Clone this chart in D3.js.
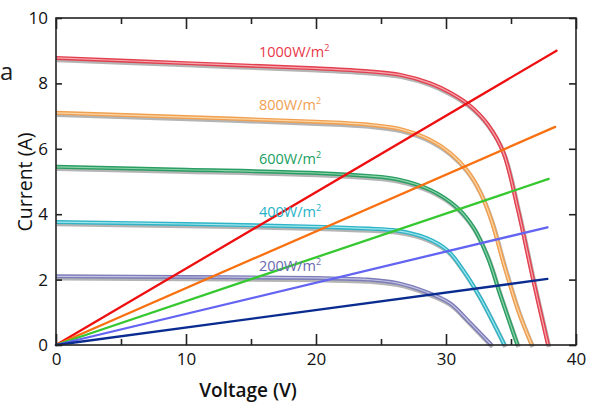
<!DOCTYPE html>
<html>
<head>
<meta charset="utf-8">
<script src="https://cdn.jsdelivr.net/npm/d3@7"></script>
<style>
  body { margin: 0; background: #fff; }
  svg { display: block; }
  text { font-family: "Open Sans", sans-serif; }
</style>
</head>
<body>
<svg id="chart" width="591" height="402"></svg>
<script>
// I-V curves for each irradiance, [voltage, current]
var curve1000 = [[0,8.78],[10,8.62],[20,8.46],[24,8.37],[26.5,8.26],[28.8,8.0],[30.3,7.72],[31.8,7.33],[33.2,6.75],[34.4,5.9],[35.5,4.2],[36.7,2.0],[37.85,0]];
var curve800  = [[0,7.1],[10,6.97],[20,6.83],[24,6.74],[26.5,6.6],[28.8,6.27],[30.3,5.88],[31.6,5.35],[32.6,4.7],[33.5,3.8],[34.5,2.4],[35.6,1.0],[36.6,0]];
var curve600  = [[0,5.45],[10,5.36],[20,5.26],[24,5.17],[26.2,5.07],[28.8,4.74],[30.8,4.22],[32.1,3.6],[33.2,2.7],[34.2,1.5],[35.5,0]];
var curve400  = [[0,3.76],[10,3.7],[20,3.62],[24,3.56],[26.2,3.5],[28.5,3.27],[30.1,2.9],[31.3,2.3],[32.6,1.47],[34.5,0]];
var curve200  = [[0,2.1],[10,2.08],[20,2.05],[24,2.0],[26.2,1.9],[28.5,1.62],[30.3,1.28],[31.8,0.7],[33.5,0]];
var curves = [curve1000, curve800, curve600, curve400, curve200];
var irradiance = ['1000', '800', '600', '400', '200'];

// load lines from origin, end points [voltage, current]
var loadEnds = [[38.5,9.0],[38.4,6.67],[37.9,5.08],[37.8,3.6],[37.8,2.02]];

var xTicks = [0, 10, 20, 30, 40];
var yTicks = [0, 2, 4, 6, 8, 10];
var xMinor = [5, 15, 25, 35];

var curveColors = ['#e2404e', '#f0a050', '#2a9e62', '#2eb4c6', '#7c7cb8'];
var curveInner  = ['#f7a8b0', '#fbd6a8', '#8fd4ae', '#a4e6ee', '#c4c4e4'];
var labelColors = ['#e8384a', '#f0a050', '#20a060', '#26b2c8', '#6a6ab0'];
var labelY = [8.8, 7.18, 5.55, 3.9, 2.25];
var lineColors = ['#ee1010', '#f87010', '#36c830', '#6464f2', '#0a2c90'];

var svg = d3.select('#chart');
var x = d3.scaleLinear().domain([0, 40]).range([56, 576]);
var y = d3.scaleLinear().domain([0, 10]).range([345, 18]);

var line = d3.line()
    .x(function(d) { return x(d[0]); })
    .y(function(d) { return y(d[1]); })
    .curve(d3.curveCatmullRom.alpha(0.5));

// I-V curves: shadow, colored tube, light core
var g = svg.append('g');
curves.forEach(function(c, i) {
  g.append('path').attr('d', line(c))
    .attr('transform', 'translate(1,2)')
    .attr('fill', 'none').attr('stroke', '#777').attr('stroke-opacity', 0.55)
    .attr('stroke-width', 4.5);
  g.append('path').attr('d', line(c))
    .attr('fill', 'none').attr('stroke', curveColors[i]).attr('stroke-width', 4);
  g.append('path').attr('d', line(c))
    .attr('fill', 'none').attr('stroke', curveInner[i]).attr('stroke-width', 1.2);
});

// load lines
svg.append('g').selectAll('line')
    .data(loadEnds)
  .enter().append('line')
    .attr('x1', x(0)).attr('y1', y(0))
    .attr('x2', function(d) { return x(d[0]); })
    .attr('y2', function(d) { return y(d[1]); })
    .attr('stroke', function(d, i) { return lineColors[i]; })
    .attr('stroke-width', 2.3)
    .attr('stroke-linecap', 'round');

// irradiance labels
var lab = svg.append('g').selectAll('text')
    .data(irradiance)
  .enter().append('text')
    .attr('x', 259)
    .attr('y', function(d, i) { return y(labelY[i]); })
    .attr('font-size', 14.5)
    .attr('fill', function(d, i) { return labelColors[i]; });
lab.append('tspan').text(function(d) { return d + 'W/m'; });
lab.append('tspan').text('2').attr('font-size', 9).attr('dy', -6);

// frame and ticks
var axisColor = '#222';
svg.append('rect')
    .attr('x', x(0)).attr('y', y(10))
    .attr('width', x(40) - x(0)).attr('height', y(0) - y(10))
    .attr('fill', 'none').attr('stroke', axisColor).attr('stroke-width', 1.6);

var axisB = d3.axisBottom(x).tickValues(xTicks).tickSize(-11).tickPadding(8).tickSizeOuter(0);
var axisT = d3.axisTop(x).tickValues(xTicks).tickSize(-11).tickFormat('').tickSizeOuter(0);
svg.append('g').attr('transform', 'translate(0,345)').call(axisB);
svg.append('g').attr('transform', 'translate(0,18)').call(axisT);
svg.append('g').attr('transform', 'translate(0,345)')
    .call(d3.axisBottom(x).tickValues(xMinor).tickSize(-6).tickFormat('').tickSizeOuter(0));
svg.append('g').attr('transform', 'translate(0,18)')
    .call(d3.axisTop(x).tickValues(xMinor).tickSize(-6).tickFormat('').tickSizeOuter(0));
svg.append('g').attr('transform', 'translate(56,0)')
    .call(d3.axisLeft(y).tickValues(yTicks).tickSize(-6).tickPadding(8).tickSizeOuter(0));
svg.append('g').attr('transform', 'translate(576,0)')
    .call(d3.axisRight(y).tickValues(yTicks).tickSize(-7).tickFormat('').tickSizeOuter(0));

svg.selectAll('.domain').remove();
svg.selectAll('.tick line').attr('stroke', axisColor).attr('stroke-width', 1.6);
svg.selectAll('.tick text')
    .attr('font-size', 17).attr('fill', '#111')
    .attr('font-family', '"Open Sans", sans-serif');

// axis titles
svg.append('text')
    .attr('transform', 'translate(32,182) rotate(-90)')
    .attr('text-anchor', 'middle')
    .attr('font-size', 19.5).attr('fill', '#111')
    .text('Current (A)');
svg.append('text')
    .attr('x', 248).attr('y', 397)
    .attr('text-anchor', 'middle')
    .attr('font-size', 19).attr('font-weight', 600).attr('fill', '#111')
    .text('Voltage (V)');

// fragment from the source page at the left edge
svg.append('text')
    .attr('x', 0).attr('y', 80)
    .attr('font-family', '"DejaVu Serif", serif')
    .attr('font-size', 24).attr('fill', '#222')
    .text('a');
</script>
</body>
</html>
